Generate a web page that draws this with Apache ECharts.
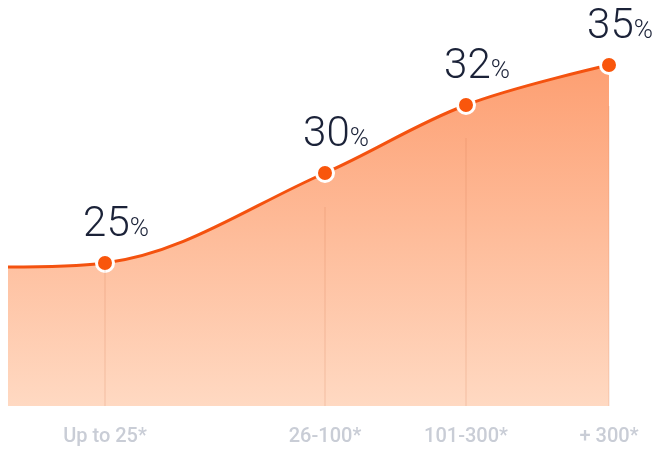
<!DOCTYPE html>
<html>
<head>
<meta charset="utf-8">
<script src="https://cdn.jsdelivr.net/npm/echarts@6/dist/echarts.min.js"></script>
<style>html,body{margin:0;padding:0;background:#fff}#c{width:657px;height:458px}</style>
</head>
<body>
<div id="c"></div>
<script>
// Tier labels under the axis
var tierLabels = ['Up to 25*', '26-100*', '101-300*', '+ 300*'];
// Percentage shown above each point
var tierRates = [25, 30, 32, 35];
// Horizontal position of each tier along the axis (0 = curve start)
var tierX = [97, 317, 458, 601];
// Visual height of the curve (start point, then tiers)
var startX = 0;
var startHeight = 139;
var tierHeights = [143, 233, 301, 341];
// Where the faint guide lines start (height)
var guideTops = [136, 199, 268, 300];

var lineData = [[startX, startHeight]];
for (var i = 0; i < tierX.length; i++) {
  lineData.push({
    value: [tierX[i], tierHeights[i]],
    rate: tierRates[i],
    symbolSize: 17,
    label: { show: true }
  });
}

var guides = [];
for (var j = 0; j < tierX.length; j++) {
  guides.push([{ coord: [tierX[j], guideTops[j]] }, { coord: [tierX[j], 0] }]);
}

var chart = echarts.init(document.getElementById('c'));
chart.setOption({
  animation: false,
  grid: { left: 8, right: 48, top: 6, bottom: 52 },
  xAxis: {
    type: 'value', min: 0, max: 601,
    axisLine: { show: false }, axisTick: { show: false }, splitLine: { show: false },
    axisLabel: {
      customValues: tierX,
      margin: 21,
      color: '#c9cdd6',
      fontSize: 20,
      fontWeight: 500,
      fontFamily: 'Roboto',
      formatter: function (v) {
        var k = tierX.indexOf(v);
        return k >= 0 ? tierLabels[k] : '';
      }
    }
  },
  yAxis: { type: 'value', min: 0, max: 400, show: false, splitLine: { show: false } },
  series: [{
    type: 'line',
    data: lineData,
    smooth: 0.35,
    showSymbol: true,
    symbol: 'circle',
    symbolSize: 0,
    z: 3,
    lineStyle: { color: '#f4520f', width: 3 },
    itemStyle: { color: '#f9560c', borderColor: '#ffffff', borderWidth: 3 },
    areaStyle: {
      opacity: 1,
      color: new echarts.graphic.LinearGradient(0, 0, 0, 1, [
        { offset: 0, color: '#fd9f72' },
        { offset: 1, color: '#ffd9c2' }
      ])
    },
    label: {
      show: false,
      position: 'top',
      distance: 7,
      offset: [11, 0],
      formatter: function (p) { return '{n|' + p.data.rate + '}{p|%}'; },
      rich: {
        n: { fontSize: 42, fontWeight: 300, color: '#1b2238', fontFamily: 'Roboto', lineHeight: 42, verticalAlign: 'bottom' },
        p: { fontSize: 26, fontWeight: 300, color: '#1b2238', fontFamily: 'Roboto', lineHeight: 42, verticalAlign: 'bottom', padding: [0, 0, 4, 0] }
      }
    },
    markLine: {
      silent: true,
      symbol: 'none',
      label: { show: false },
      lineStyle: { color: 'rgba(200,110,70,0.16)', width: 1.5, type: 'solid' },
      data: guides
    }
  }]
});
</script>
</body>
</html>
